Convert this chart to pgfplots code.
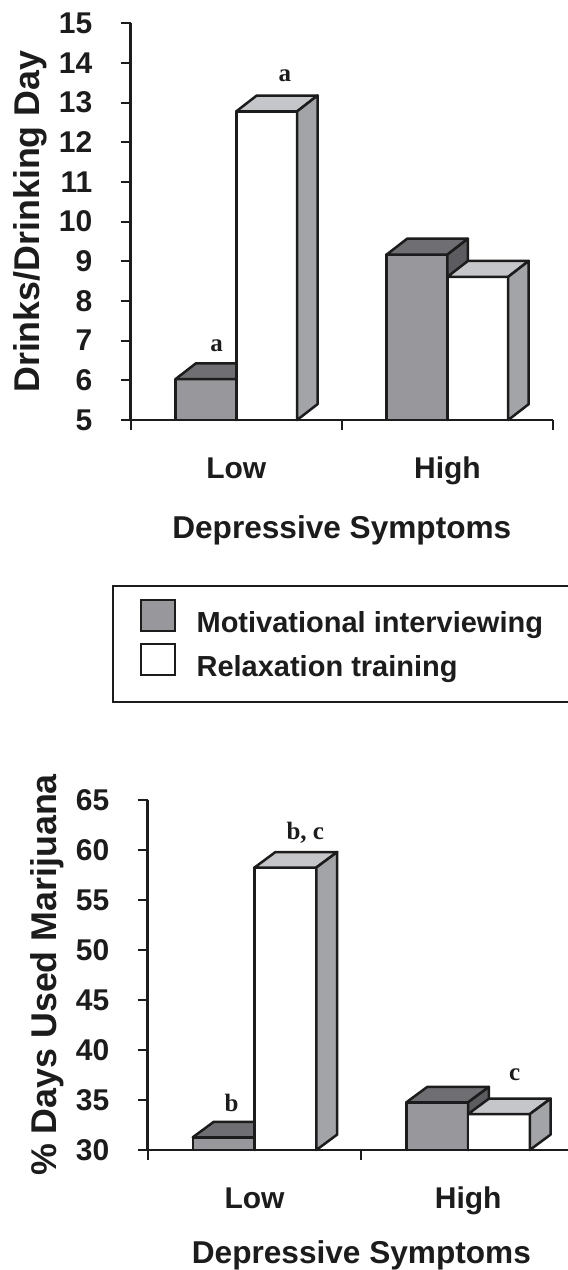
\documentclass[border=0pt]{standalone}
\usepackage{fontspec}
\setmainfont{Liberation Sans}
\newfontfamily\serifbold{Liberation Serif}
\usepackage{pgfplots}
\pgfplotsset{compat=1.18}

\definecolor{ink}{HTML}{1C1C1C}
\definecolor{mifront}{HTML}{98989C}
\definecolor{mitop}{HTML}{6F6F73}
\definecolor{miside}{HTML}{5C5C60}
\definecolor{rtfront}{HTML}{FFFFFF}
\definecolor{rttop}{HTML}{C5C6CA}
\definecolor{rtside}{HTML}{A3A4A8}

\pgfplotsset{
  faces/.style={draw=ink, line width=1.25pt, line join=round},
  common/.style={
    scale only axis, clip=false,
    axis lines*=left,
    axis line style={ink, line width=1.2pt},
    tick align=outside, major tick length=5pt,
    tick style={ink, line width=1pt},
    /pgf/number format/assume math mode=true,
    tick label style={font=\fontsize{15}{18}\selectfont\bfseries, text=ink},
    yticklabel style={font=\fontsize{15}{18}\selectfont\bfseries, anchor=east, inner sep=0pt, xshift=-14pt},
    extra x tick style={major tick length=0pt,
      tick label style={font=\fontsize{15}{18}\selectfont\bfseries, anchor=base, yshift=-29.4pt}},
    xlabel={Depressive Symptoms},
  },
}

% #1 left x, #2 value, #3 base, #4 width, #5 dx, #6 dy, #7 front, #8 top, #9 side
\newcommand{\threedbar}[9]{%
  \pgfmathsetmacro{\xa}{#1}%
  \pgfmathsetmacro{\xb}{#1+#4}%
  \pgfmathsetmacro{\xc}{#1+#4+#5}%
  \pgfmathsetmacro{\xd}{#1+#5}%
  \pgfmathsetmacro{\yv}{#2}%
  \pgfmathsetmacro{\yt}{#2+#6}%
  \pgfmathsetmacro{\yo}{#3}%
  \pgfmathsetmacro{\yu}{#3+#6}%
  \edef\tmpplots{%
    \noexpand\addplot[faces, fill=#7, forget plot] coordinates {(\xa,\yo) (\xb,\yo) (\xb,\yv) (\xa,\yv)} -- cycle;
    \noexpand\addplot[faces, fill=#8, forget plot] coordinates {(\xa,\yv) (\xb,\yv) (\xc,\yt) (\xd,\yt)} -- cycle;
    \noexpand\addplot[faces, fill=#9, forget plot] coordinates {(\xb,\yo) (\xc,\yu) (\xc,\yt) (\xb,\yv)} -- cycle;
  }\tmpplots
}

\begin{document}
\begin{tikzpicture}
\useasboundingbox (-65.35pt,-425pt) rectangle (218.65pt,210pt);

% ---------------- top chart ----------------
\begin{axis}[common,
  at={(0pt,0pt)}, anchor=south west,
  width=211.15pt, height=198.35pt,
  xmin=0, xmax=2, ymin=5, ymax=15,
  ytick={5,6,...,15},
  yticklabels={5,6,7,8,9,10,11,12,13,14,15},
  xtick={0,1,2}, xticklabels={},
  extra x ticks={0.5,1.5}, extra x tick labels={Low,High},
  ylabel={Drinks/Drinking Day},
  every axis y label/.style={at={(axis description cs:-0.2148,0.5)}, rotate=90, anchor=base,
     font=\fontsize{17.9}{21}\selectfont\bfseries, text=ink},
  every axis x label/.style={at={(axis description cs:0.5,0)}, anchor=base, yshift=-59pt,
     font=\fontsize{15.8}{19}\selectfont\bfseries, text=ink},
  legend image code/.code={%
    \path (0pt,-10.5pt);
    \draw[#1] (0pt,-4pt) rectangle (17pt,11.5pt);
  },
  legend style={
    at={(axis description cs:-0.045,-0.4159)}, anchor=north west,
    draw=ink, line width=1pt, inner xsep=13.5pt, inner ysep=6.5pt,
    row sep=-1pt, column sep=10.35pt,
    font=\fontsize{14.5}{17}\selectfont\bfseries,
    nodes={inner sep=0pt, text=ink},
  },
  legend cell align=left,
]
% Motivational interviewing / Relaxation training, Low and High
\threedbar{0.212}{6.03}{5}{0.288}{0.097}{0.40}{mifront}{mitop}{miside}
\threedbar{0.500}{12.78}{5}{0.288}{0.097}{0.40}{rtfront}{rttop}{rtside}
\threedbar{1.212}{9.17}{5}{0.288}{0.097}{0.40}{mifront}{mitop}{miside}
\threedbar{1.500}{8.61}{5}{0.288}{0.097}{0.40}{rtfront}{rttop}{rtside}

\node[font=\serifbold\fontsize{12.5}{14}\selectfont\bfseries, text=ink, anchor=base] at (axis cs:0.407,6.72) {a};
\node[font=\serifbold\fontsize{12.5}{14}\selectfont\bfseries, text=ink, anchor=base] at (axis cs:0.730,13.53) {a};

\addlegendimage{fill=mifront, draw=ink, line width=1.1pt}
\addlegendentry{Motivational interviewing}
\addlegendimage{fill=white, draw=ink, line width=1.1pt}
\addlegendentry{Relaxation training}
\end{axis}

% ---------------- bottom chart ----------------
\begin{axis}[common,
  at={(8.5pt,-365pt)}, anchor=south west,
  width=210.15pt, height=175pt,
  xmin=0, xmax=1.9668, ymin=30, ymax=65,
  ytick={30,35,...,65},
  yticklabels={30,35,40,45,50,55,60,65},
  xtick={0,1}, xticklabels={},
  extra x ticks={0.5,1.5}, extra x tick labels={Low,High},
  ylabel={\% Days Used Marijuana},
  every axis y label/.style={at={(axis description cs:-0.2165,0.5)}, rotate=90, anchor=base,
     font=\fontsize{17.9}{21}\selectfont\bfseries, text=ink},
  every axis x label/.style={at={(axis description cs:0.5085,0)}, anchor=base, yshift=-56.5pt,
     font=\fontsize{15.8}{19}\selectfont\bfseries, text=ink},
]
\threedbar{0.211}{31.27}{30}{0.289}{0.098}{1.55}{mifront}{mitop}{miside}
\threedbar{0.500}{58.25}{30}{0.289}{0.098}{1.55}{rtfront}{rttop}{rtside}
\threedbar{1.210}{34.76}{30}{0.289}{0.098}{1.55}{mifront}{mitop}{miside}
\threedbar{1.499}{33.59}{30}{0.289}{0.098}{1.55}{rtfront}{rttop}{rtside}

\node[font=\serifbold\fontsize{12.5}{14}\selectfont\bfseries, text=ink, anchor=base] at (axis cs:0.393,33.82) {b};
\node[font=\serifbold\fontsize{12.5}{14}\selectfont\bfseries, text=ink, anchor=base] at (axis cs:0.7375,61.08) {b, c};
\node[font=\serifbold\fontsize{12.5}{14}\selectfont\bfseries, text=ink, anchor=base] at (axis cs:1.717,36.91) {c};
\end{axis}
\end{tikzpicture}
\end{document}
